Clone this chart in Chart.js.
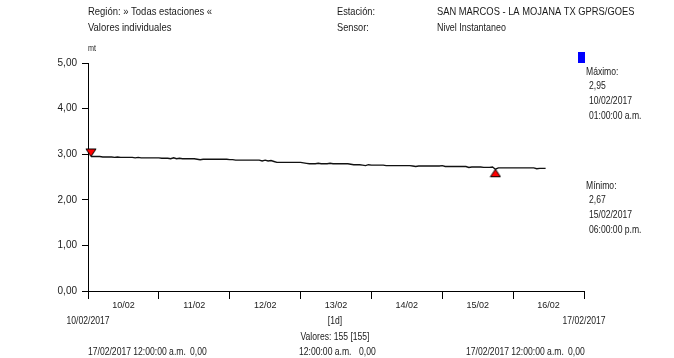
<!DOCTYPE html>
<html>
<head>
<meta charset="utf-8">
<script src="https://cdn.jsdelivr.net/npm/chart.js@4.4.1/dist/chart.umd.min.js"></script>
<style>
  html, body { margin: 0; padding: 0; background: #fff; }
  canvas { display: block; }
</style>
</head>
<body>
<canvas id="c" width="674" height="358"></canvas>
<script>
// ---- Data (hourly readings, 10/02/2017 01:00 a.m. onward) ----
const startHour = 1; // first reading: 10/02/2017 01:00
const day10 = [2.95,2.95,2.95,2.95,2.94,2.94,2.94,2.94,2.93,2.94,2.93,2.93,2.93,2.93,2.93,2.92,2.93,2.92,2.92,2.92,2.92,2.92,2.92];
const day11 = [2.92,2.91,2.91,2.91,2.90,2.92,2.90,2.91,2.90,2.90,2.90,2.90,2.90,2.89,2.88,2.89,2.89,2.89,2.89,2.89,2.89,2.89,2.89,2.89];
const day12 = [2.88,2.88,2.87,2.87,2.87,2.87,2.87,2.87,2.87,2.87,2.87,2.85,2.87,2.85,2.86,2.84,2.82,2.82,2.82,2.82,2.82,2.82,2.82,2.82];
const day13 = [2.82,2.81,2.80,2.79,2.79,2.79,2.80,2.79,2.79,2.79,2.80,2.79,2.79,2.79,2.79,2.79,2.79,2.78,2.77,2.77,2.77,2.76,2.75,2.77];
const day14 = [2.76,2.76,2.76,2.76,2.76,2.75,2.75,2.75,2.75,2.75,2.75,2.75,2.75,2.75,2.74,2.73,2.74,2.74,2.74,2.74,2.74,2.74,2.74,2.74];
const day15 = [2.75,2.73,2.73,2.73,2.73,2.73,2.73,2.73,2.73,2.71,2.72,2.72,2.72,2.72,2.71,2.71,2.71,2.72,2.67,2.70,2.70,2.70,2.70,2.70];
const day16 = [2.70,2.70,2.70,2.70,2.70,2.70,2.70,2.70,2.68,2.69,2.69,2.69];
const levels = [].concat(day10, day11, day12, day13, day14, day15, day16);

const maxPoint = { hour: 1, value: 2.95 };    // 10/02/2017 01:00:00 a.m.
const minPoint = { hour: 138, value: 2.67 };  // 15/02/2017 06:00:00 p.m.

const xTickHours = [0,12,24,36,48,60,72,84,96,108,120,132,144,156,168];
const dayLabels = ['10/02','11/02','12/02','13/02','14/02','15/02','16/02'];
const yTicks = [0,1,2,3,4,5];

const FONT = '"Liberation Sans",Arial,sans-serif';

// ---- Marker images ----
function triangleImage(down) {
  const c = document.createElement('canvas');
  c.width = 12; c.height = 20;
  const g = c.getContext('2d');
  g.fillStyle = '#ff0000';
  g.strokeStyle = '#000';
  g.lineWidth = 1;
  g.beginPath();
  if (down) { // tip at center, base above
    g.moveTo(1, 2.5); g.lineTo(11, 2.5); g.lineTo(6, 10);
  } else {    // tip at center, base below
    g.moveTo(6, 10); g.lineTo(11, 17.5); g.lineTo(1, 17.5);
  }
  g.closePath();
  g.fill();
  g.stroke();
  return c;
}

const lineData = levels.map((v, i) => ({ x: startHour + i, y: v }));

const textPlugin = {
  id: 'texts',
  afterDraw(chart) {
    const ctx = chart.ctx;
    ctx.save();
    ctx.fillStyle = '#1a1a1a';
    ctx.textBaseline = 'middle';
    const t = (s, x, y, align, sx, size) => {
      ctx.save();
      ctx.font = (size || 11) + 'px ' + FONT;
      ctx.textAlign = align || 'left';
      ctx.translate(x, y);
      ctx.scale(sx || 0.78, 1);
      ctx.fillText(s, 0, 0);
      ctx.restore();
    };
    t('Región: » Todas estaciones «', 88, 12, 'left', 0.86);
    t('Valores individuales', 88, 28, 'left', 0.86);
    t('Estación:', 337, 12, 'left', 0.84);
    t('Sensor:', 337, 28, 'left', 0.84);
    t('SAN MARCOS - LA MOJANA TX GPRS/GOES', 437, 12, 'left', 0.85);
    t('Nivel Instantaneo', 437, 28, 'left', 0.81);
    t('mt', 88, 49, 'left', 0.8, 9);

    ctx.fillStyle = '#0000ff';
    ctx.fillRect(578, 52, 7, 11);
    ctx.fillStyle = '#1a1a1a';

    t('Máximo:', 586, 72);
    t('2,95', 589, 86);
    t('10/02/2017', 589, 101);
    t('01:00:00 a.m.', 589, 116);
    t('Mínimo:', 586, 186);
    t('2,67', 589, 200);
    t('15/02/2017', 589, 215);
    t('06:00:00 p.m.', 589, 230);

    t('10/02/2017', 88, 321, 'center');
    t('[1d]', 335, 321, 'center');
    t('17/02/2017', 584, 321, 'center');
    t('Valores: 155 [155]', 335, 337, 'center');
    t('17/02/2017 12:00:00 a.m.', 88, 352);
    t('0,00', 190, 352);
    t('12:00:00 a.m.', 299, 352);
    t('0,00', 359, 352);
    t('17/02/2017 12:00:00 a.m.', 466, 352);
    t('0,00', 568, 352);
    ctx.restore();
  }
};

new Chart(document.getElementById('c'), {
  type: 'line',
  data: {
    datasets: [
      {
        data: lineData,
        borderColor: '#111',
        borderWidth: 1.4,
        pointRadius: 0,
        tension: 0,
        fill: false
      },
      {
        data: [{ x: maxPoint.hour, y: maxPoint.value }],
        showLine: false,
        pointStyle: triangleImage(true),
        clip: false
      },
      {
        data: [{ x: minPoint.hour, y: minPoint.value }],
        showLine: false,
        pointStyle: triangleImage(false),
        clip: false
      }
    ]
  },
  options: {
    responsive: false,
    animation: false,
    devicePixelRatio: 1,
    layout: { padding: { top: 63, right: 90, left: 0, bottom: 0 } },
    plugins: { legend: { display: false }, tooltip: { enabled: false } },
    scales: {
      x: {
        type: 'linear',
        min: 0,
        max: 168,
        afterBuildTicks(scale) { scale.ticks = xTickHours.map(v => ({ value: v })); },
        afterFit(scale) { scale.height = 67; },
        ticks: {
          autoSkip: false,
          maxRotation: 0,
          padding: 1,
          color: '#1a1a1a',
          font: { family: FONT, size: 9 },
          callback(v) { return (v % 24 === 12) ? dayLabels[(v - 12) / 24] : ''; }
        },
        grid: {
          drawOnChartArea: false,
          tickLength: 8,
          tickWidth: 1,
          tickColor: (c) => (c.tick && c.tick.value % 24 === 0) ? '#000' : 'rgba(0,0,0,0)'
        },
        border: { color: '#000', width: 1 }
      },
      y: {
        min: 0,
        max: 5,
        afterBuildTicks(scale) { scale.ticks = yTicks.map(v => ({ value: v })); },
        afterFit(scale) { scale.width = 88; },
        ticks: {
          padding: 5,
          color: '#1a1a1a',
          font: { family: FONT, size: 10 },
          callback(v) { return v.toFixed(2).replace('.', ','); }
        },
        grid: {
          drawOnChartArea: false,
          tickLength: 6,
          tickColor: '#000'
        },
        border: { color: '#000', width: 1 }
      }
    }
  },
  plugins: [textPlugin]
});
</script>
</body>
</html>
